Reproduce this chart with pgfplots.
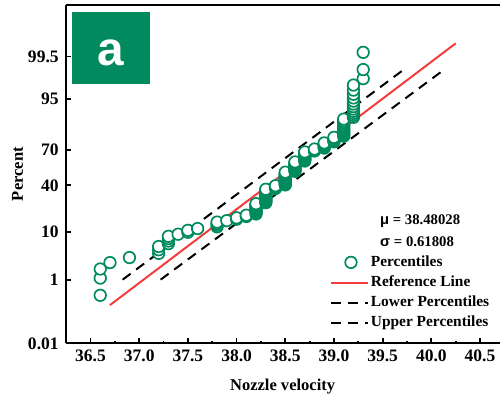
\documentclass[border=0pt]{standalone}
\usepackage{fontspec}
\setmainfont{Liberation Serif}
\newfontfamily\symf{Liberation Sans}
\usepackage{pgfplots}
\pgfplotsset{compat=1.18}
\definecolor{pgreen}{RGB}{0,138,94}
\definecolor{pred}{RGB}{245,60,60}
\pgfplotsset{markleg/.style={legend image code/.code={\draw[##1] plot coordinates {(9.8pt,0pt)};}}}
\begin{document}
\begin{tikzpicture}
\begin{axis}[
  scale only axis, width=218pt, height=170pt,
  xmin=36.245, xmax=40.70, ymin=-3.719, ymax=3.705,
  axis x line=box, axis y line=left,
  axis line style={-, line width=1pt},
  every non boxed y axis/.append style={y axis line style={-}},
  xtick pos=bottom, ytick pos=left,
  tick align=inside,
  xtick={36.5,37,37.5,38,38.5,39,39.5,40,40.5},
  xticklabels={36.5,37.0,37.5,38.0,38.5,39.0,39.5,40.0,40.5},
  minor x tick num=1,
  ytick={-3.719,-2.3263,-1.2816,-0.2533,0.5244,1.6449,2.5758},
  yticklabels={0.01,1,10,40,70,95,99.5},
  major tick length=2.6pt, minor tick length=1.4pt,
  every tick/.style={black, line width=0.9pt},
  tick label style={font=\fontsize{8.8}{10}\selectfont\bfseries},
  xlabel={Nozzle velocity}, ylabel={Percent},
  every axis y label/.style={at={(axis description cs:-0.1112,0.5)}, rotate=90, anchor=center},
  every axis x label/.style={at={(axis description cs:0.5,-0.128)}, anchor=center},
  label style={font=\fontsize{8.3}{10}\selectfont\bfseries},
  legend style={draw=none, fill=none, at={(0.6094,0.2668)}, anchor=north west,
    font=\fontsize{7.75}{9}\selectfont\bfseries, inner sep=0pt, row sep=1.15pt,
    nodes={inner sep=1pt, text height=5.5pt, text depth=1.5pt}},
  legend cell align=left,
  legend image code/.code={\draw[#1] (0pt,0pt) -- (18.3pt,0pt);},
]
\addplot[only marks, mark=*, mark size=2.9pt,
  mark options={draw=pgreen, fill=white, line width=0.85pt},
  markleg,
  y filter/.expression={4.91*((y/100)^0.14-(1-y/100)^0.14)}]
table[row sep=\\] {
x p\\
36.6 0.370\\ 36.6 1.111\\ 36.6 1.852\\
36.7 2.593\\
36.9 3.333\\
37.2 4.074\\ 37.2 4.815\\ 37.2 5.556\\
37.3 6.296\\ 37.3 7.037\\ 37.3 7.778\\ 37.3 8.519\\
37.4 9.259\\
37.5 10.000\\ 37.5 10.741\\
37.6 11.481\\
37.8 12.222\\ 37.8 12.963\\ 37.8 13.704\\ 37.8 14.444\\
37.9 15.185\\
38.0 15.926\\ 38.0 16.667\\
38.1 17.407\\ 38.1 18.148\\
38.2 18.889\\ 38.2 19.630\\ 38.2 20.370\\ 38.2 21.111\\ 38.2 21.852\\
38.2 22.593\\ 38.2 23.333\\ 38.2 24.074\\ 38.2 24.815\\ 38.2 25.556\\
38.3 26.296\\ 38.3 27.037\\ 38.3 27.778\\ 38.3 28.519\\ 38.3 29.259\\
38.3 30.000\\ 38.3 30.741\\ 38.3 31.481\\ 38.3 32.222\\ 38.3 32.963\\
38.3 33.704\\ 38.3 34.444\\ 38.3 35.185\\ 38.3 35.926\\ 38.3 36.667\\
38.4 37.407\\ 38.4 38.148\\ 38.4 38.889\\ 38.4 39.630\\
38.5 40.370\\ 38.5 41.111\\ 38.5 41.852\\ 38.5 42.593\\ 38.5 43.333\\
38.5 44.074\\ 38.5 44.815\\ 38.5 45.556\\ 38.5 46.296\\ 38.5 47.037\\
38.5 47.778\\ 38.5 48.519\\ 38.5 49.259\\ 38.5 50.000\\ 38.5 50.741\\ 38.5 51.481\\
38.6 52.222\\ 38.6 52.963\\ 38.6 53.704\\ 38.6 54.444\\ 38.6 55.185\\ 38.6 55.926\\
38.6 56.667\\ 38.6 57.407\\ 38.6 58.148\\ 38.6 58.889\\ 38.6 59.630\\ 38.6 60.370\\
38.7 61.111\\ 38.7 61.852\\ 38.7 62.593\\ 38.7 63.333\\ 38.7 64.074\\ 38.7 64.815\\
38.7 65.556\\ 38.7 66.296\\ 38.7 67.037\\ 38.7 67.778\\ 38.7 68.519\\
38.8 69.259\\ 38.8 70.000\\ 38.8 70.741\\
38.9 71.481\\ 38.9 72.222\\ 38.9 72.963\\ 38.9 73.704\\ 38.9 74.444\\ 38.9 75.185\\
39.0 75.926\\ 39.0 76.667\\ 39.0 77.407\\ 39.0 78.148\\ 39.0 78.889\\
39.1 79.630\\ 39.1 80.370\\ 39.1 81.111\\ 39.1 81.852\\ 39.1 82.593\\ 39.1 83.333\\
39.1 84.074\\ 39.1 84.815\\ 39.1 85.556\\ 39.1 86.296\\ 39.1 87.037\\ 39.1 87.778\\ 39.1 88.519\\
39.2 89.259\\ 39.2 90.000\\ 39.2 90.741\\ 39.2 91.481\\ 39.2 92.222\\ 39.2 92.963\\
39.2 93.704\\ 39.2 94.444\\ 39.2 95.185\\ 39.2 95.926\\ 39.2 96.667\\ 39.2 97.407\\
39.3 98.148\\ 39.3 98.889\\ 39.3 99.630\\
};
\addplot[pred, line width=1pt, no marks] coordinates {(36.7,-2.880) (40.25,2.863)};
\addplot[black, line width=1pt, dash pattern=on 5pt off 3.5pt, no marks] coordinates {(37.22,-2.322) (40.14,2.30)};
\addplot[black, line width=1pt, dash pattern=on 5pt off 3.5pt, no marks] coordinates {(36.83,-2.322) (39.725,2.301)};
\legend{Percentiles, Reference Line, Lower Percentiles, Upper Percentiles}
\fill[pgreen] (rel axis cs:0.0145,0.767) rectangle (rel axis cs:0.195,0.9785);
\node[white, font=\symf\fontsize{24}{24}\selectfont\bfseries] at (rel axis cs:0.1048,0.858) {a};
\node[anchor=west, font=\fontsize{7.4}{9}\selectfont\bfseries] at (rel axis cs:0.7087,0.3626) {{\symf μ} = 38.48028};
\node[anchor=west, font=\fontsize{7.4}{9}\selectfont\bfseries] at (rel axis cs:0.7087,0.3009) {{\symf σ} = 0.61808};
\end{axis}
\path (-33pt,-26.5pt) rectangle (218pt,172.5pt);
\end{tikzpicture}
\end{document}
